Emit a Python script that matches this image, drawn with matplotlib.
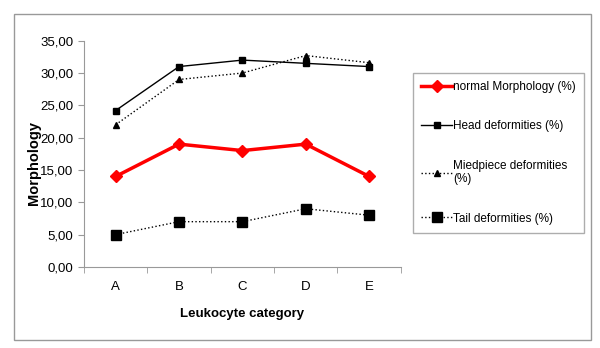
import matplotlib
matplotlib.use("Agg")
import matplotlib.pyplot as plt
from matplotlib.patches import Rectangle

plt.rcParams['font.family'] = ['Liberation Sans', 'DejaVu Sans']

# data
categories = ['A', 'B', 'C', 'D', 'E']
normal = [14, 19, 18, 19, 14]
head = [24.2, 31, 32, 31.5, 31]
midpiece = [22, 29, 30, 32.7, 31.6]
tail = [5, 7, 7, 9, 8]
yticks = [0, 5, 10, 15, 20, 25, 30, 35]

fig = plt.figure(figsize=(6, 3.48), dpi=100)
ax = fig.add_axes([0.14, 0.233, 0.528, 0.650])

x = range(len(categories))
ax.plot(x, normal, color='red', lw=2.5, marker='D', ms=6, label='normal Morphology (%)')
ax.plot(x, head, color='black', lw=1, marker='s', ms=5, label='Head deformities (%)')
ax.plot(x, midpiece, color='black', lw=1, ls=':', marker='^', ms=5, label='Miedpiece deformities\n(%)')
ax.plot(x, tail, color='black', lw=1, ls=':', marker='s', ms=7, label='Tail deformities (%)')

ax.set_xlim(-0.5, len(categories) - 0.5)
ax.set_ylim(0, 35)
ax.set_yticks(yticks)
ax.set_yticklabels(['%d,00' % v for v in yticks], fontsize=9.5)
ax.set_xticks(list(x))
ax.set_xticklabels(categories, fontsize=9.5)
ax.set_xticks([i - 0.5 for i in range(len(categories) + 1)], minor=True)
ax.tick_params(axis='x', which='major', length=0, pad=10)
ax.tick_params(axis='x', which='minor', length=4, color='#999999', direction='out')
ax.tick_params(axis='y', length=4, color='#999999')
for s in ['top', 'right']:
    ax.spines[s].set_visible(False)
for s in ['left', 'bottom']:
    ax.spines[s].set_color('#999999')
ax.set_ylabel('Morphology', fontsize=10.5, fontweight='bold')
ax.yaxis.set_label_coords(-0.135, 0.46)
ax.set_xlabel('Leukocyte category', fontsize=9.5, fontweight='bold', labelpad=11)

fig.patches.append(Rectangle((14 / 600, 1 - 340 / 348), 577 / 600, 326 / 348,
                             transform=fig.transFigure, fill=False, edgecolor='#999999', lw=1))

fig.legend(loc='upper left', bbox_to_anchor=(413 / 600, 1 - 73 / 348), frameon=True,
           fontsize=8.5, labelspacing=2.3, handlelength=2.6, handletextpad=0.1,
           borderpad=0.7, borderaxespad=0, fancybox=False, edgecolor='#999999')

fig.savefig('out.png', dpi=100)
